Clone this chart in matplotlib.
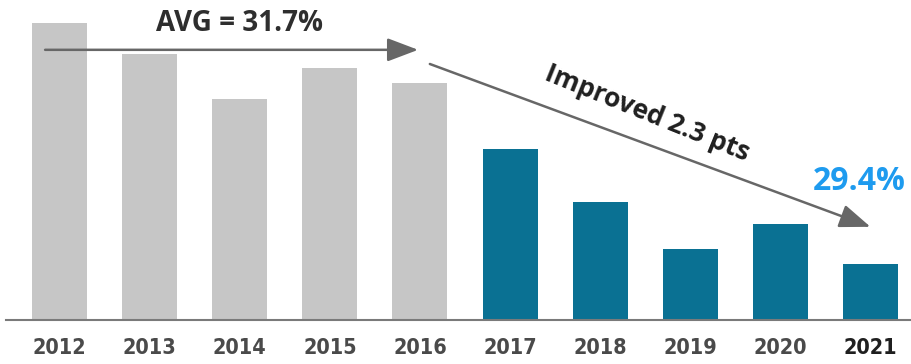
import numpy as np
import matplotlib
matplotlib.use('Agg')
import matplotlib.pyplot as plt

# data (% values, axis is truncated)
years = ['2012', '2013', '2014', '2015', '2016', '2017', '2018', '2019', '2020', '2021']
values = [32.19, 31.83, 31.31, 31.67, 31.50, 30.73, 30.12, 29.57, 29.86, 29.40]
n_old = 5   # first five years drawn in gray

avg_old = np.mean(values[:n_old])
last = values[-1]

gray = '#c6c6c6'
teal = '#0a7193'
arrow_c = '#676767'

plt.rcParams['font.family'] = ['Open Sans', 'DejaVu Sans']

fig = plt.figure(figsize=(9.11, 3.64), dpi=100)
ax = fig.add_axes([6/911, 44/364, 905/911, 320/364])

x = np.arange(len(years))
colors = [gray]*n_old + [teal]*(len(years)-n_old)
ax.bar(x, values, width=0.61, color=colors, zorder=2)

ax.set_xlim(-0.594, 9.45)
ax.set_ylim(28.751, 32.457)

for s in ['top', 'right', 'left']:
    ax.spines[s].set_visible(False)
ax.spines['bottom'].set_color('#7a7a7a')
ax.spines['bottom'].set_linewidth(1.5)
ax.spines['bottom'].set_zorder(3)
ax.set_yticks([])
ax.set_xticks(x)
ax.set_xticklabels(years)
ax.tick_params(axis='x', length=0, pad=13)
for i, lab in enumerate(ax.get_xticklabels()):
    lab.set_fontfamily('DejaVu Sans')
    lab.set_fontstretch('condensed')
    lab.set_fontsize(15.5)
    lab.set_fontweight('bold')
    lab.set_color('#1f1f1f' if i == len(years)-1 else '#4a4a4a')

# average arrow over the gray years
ax.annotate('', xy=(3.98, 31.88), xytext=(-0.16, 31.88),
            arrowprops=dict(arrowstyle='-|>,head_length=1.9,head_width=0.72',
                            mutation_scale=10, lw=1.8, color=arrow_c,
                            shrinkA=0, shrinkB=0), zorder=4)
ax.text(2.0, 32.19, 'AVG = %.1f%%' % avg_old, ha='center', va='center',
        fontsize=20, fontweight='bold', color='#2e2e2e')

# improvement arrow
ax.annotate('', xy=(9.0, 29.83), xytext=(4.11, 31.716),
            arrowprops=dict(arrowstyle='-|>,head_length=1.9,head_width=0.72',
                            mutation_scale=10, lw=1.8, color=arrow_c,
                            shrinkA=0, shrinkB=0), zorder=4)
ax.text(6.52, 31.15, 'Improved %.1f pts' % (avg_old - last), ha='center', va='center',
        rotation=-22, rotation_mode='anchor',
        fontsize=19, fontweight='bold', color='#1f1f1f')

ax.text(8.88, 30.35, '%.1f%%' % last, ha='center', va='center',
        fontsize=23, fontweight='bold', color='#1e9bef')

fig.savefig('out.png', dpi=100)
